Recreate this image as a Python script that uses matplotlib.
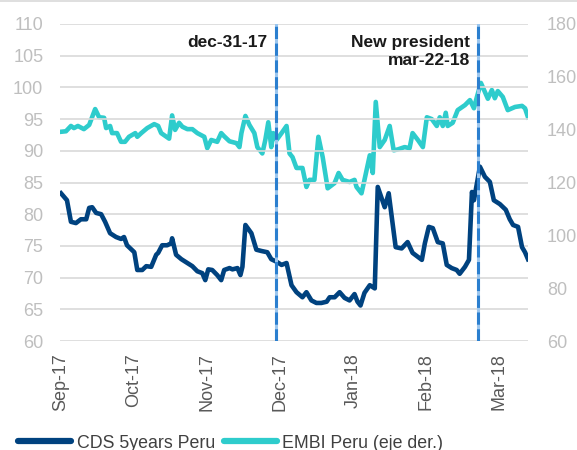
import matplotlib
matplotlib.use("Agg")
import matplotlib.pyplot as plt
from matplotlib.lines import Line2D

plt.rcParams["font.family"] = ["Liberation Sans", "DejaVu Sans"]

# eje x: índice de días hábiles (una etiqueta cada 22 días)
meses = ["Sep-17", "Oct-17", "Nov-17", "Dec-17", "Jan-18", "Feb-18", "Mar-18"]
pos_meses = [0, 22, 44, 66, 88, 110, 132]

# CDS 5 años Perú (eje izq.)
cds_x = [0, 1.8, 3.0, 4.5, 6.0, 7.6, 8.5, 9.4, 10.6, 12.1, 13.3, 14.8, 16.6, 18.1,
         19.0, 19.9, 22.1, 23.0, 24.5, 25.7, 27.2, 28.7, 29.3, 30.5, 32.0, 33.2,
         33.5, 34.7, 36.3, 38.1, 39.6, 41.1, 42.6, 43.5, 44.4, 45.6, 47.1, 48.3,
         49.2, 50.8, 51.7, 53.2, 54.1, 54.7, 55.6, 57.4, 58.9, 60.4, 62.2, 63.4,
         65.0, 66.5, 68.0, 69.5, 71.0, 72.8, 74.0, 75.5, 77.0, 78.5, 80.1, 81.0,
         82.5, 84.0, 85.5, 87.0, 88.5, 89.4, 90.3, 91.5, 93.1, 94.6, 95.5, 97.6,
         98.8, 100.9, 102.7, 104.5, 106.0, 108.8, 109.7, 110.9, 112.1, 113.6,
         115.1, 116.3, 117.8, 119.3, 120.2, 121.8, 123.0, 123.9, 124.5, 126.3,
         127.8, 129.3, 130.5, 132.3, 134.1, 135.3, 136.3, 137.8, 139.0, 139.9, 140.8]
cds_y = [83.3, 82.2, 78.8, 78.6, 79.2, 79.2, 81.0, 81.1, 80.2, 80.0, 78.8, 77.0, 76.4, 76.1,
         76.4, 75.1, 74.0, 71.2, 71.2, 71.8, 71.7, 73.6, 73.9, 75.1, 75.1, 75.4,
         76.2, 73.6, 72.9, 72.3, 71.8, 71.0, 70.7, 69.6, 71.3, 71.2, 70.4, 69.6,
         71.2, 71.5, 71.3, 71.5, 70.4, 71.7, 78.3, 77.0, 74.4, 74.2, 74.0, 72.9,
         72.5, 72.0, 72.3, 68.8, 67.7, 66.9, 67.7, 66.4, 66.0, 66.0, 66.2, 66.9,
         66.9, 67.7, 66.8, 66.4, 67.4, 66.2, 65.6, 67.6, 68.8, 68.3, 84.3, 81.1,
         83.3, 74.8, 74.6, 75.6, 73.9, 72.8, 75.4, 78.0, 77.8, 75.6,
         75.4, 72.0, 71.5, 71.2, 70.6, 71.7, 72.8, 83.5, 82.2, 87.5,
         85.9, 85.1, 82.2, 81.6, 80.7, 79.2, 78.3, 78.0, 74.8, 74.0, 72.9]

# EMBI Perú (eje der.)
embi_x = [0, 1.5, 3.0, 3.9, 5.1, 6.9, 8.5, 10.3, 11.5, 13.0, 13.6, 14.8, 15.4, 16.9,
          18.1, 19.3, 20.5, 22.4, 23.0, 24.2, 26.0, 28.1, 29.3, 30.2, 32.6, 33.5,
          34.4, 35.6, 36.6, 38.1, 39.6, 41.1, 43.2, 44.1, 45.3, 47.1, 48.3, 49.2,
          50.8, 52.9, 53.8, 54.4, 55.6, 56.8, 58.3, 59.2, 60.7, 61.6, 62.5, 63.4,
          64.0, 65.0, 66.5, 68.0, 68.9, 69.8, 71.0, 72.8, 74.0, 74.9, 76.4, 77.6,
          78.9, 80.4, 82.5, 83.7, 84.9, 87.0, 88.5, 89.1, 90.6, 91.5, 93.1, 94.0,
          94.9, 96.1, 97.6, 99.1, 100.3, 101.5, 103.6, 105.1, 106.0, 107.6, 109.1,
          110.3, 111.8, 113.3, 114.2, 115.1, 116.0, 116.6, 118.1, 119.6, 121.8,
          123.3, 124.5, 125.4, 126.6, 127.8, 128.7, 129.9, 130.8, 131.7, 133.2,
          134.7, 136.9, 139.0, 139.9, 140.8]
embi_y = [139.2, 139.4, 141.4, 140.6, 141.4, 140.2, 141.8, 147.8, 144.7, 144.5, 140.6, 141.4, 138.7, 138.7,
          135.4, 135.4, 137.3, 138.7, 137.3, 138.7, 140.6, 142.1, 141.4, 138.7, 136.6, 145.4,
          139.9, 142.6, 141.1, 140.2, 140.2, 138.7, 137.3, 133.0, 136.1, 135.4, 138.7, 137.5,
          135.6, 134.9, 133.4, 138.7, 145.2, 141.8, 138.7, 133.4, 131.0, 136.1, 142.8, 133.4,
          138.7, 136.1, 138.7, 141.4, 131.0, 129.6, 125.5, 125.5, 118.3, 121.0, 121.0, 137.3,
          129.6, 117.8, 119.8, 123.6, 121.0, 120.2, 121.0, 118.3, 115.9, 121.0, 130.3, 123.6,
          150.5, 133.4, 136.1, 141.4, 132.2, 132.5, 133.4, 133.0, 138.7, 136.1, 133.4,
          144.7, 144.0, 141.4, 144.7, 141.4, 146.4, 141.4, 142.6, 147.4, 149.3,
          151.2, 148.1, 152.4, 157.7, 154.3, 151.7, 155.0, 151.9, 154.6, 152.4,
          147.4, 148.6, 149.0, 148.1, 144.7]

# eventos
eventos_x = [64.7, 125.7]
eventos_txt = ["dec-31-17", "New president\nmar-22-18"]

AZUL = "#00427F"
TURQUESA = "#2ECCCC"
GRIS_Y = "#BFBFBF"
GRIS_X = "#595959"

fig = plt.figure(figsize=(5.77, 4.5), dpi=100)
ax = fig.add_axes([60 / 577, 1 - 341 / 450, 468 / 577, 317 / 450])
ax2 = ax.twinx()

ax.set_ylim(60, 110)
ax.set_yticks(range(60, 111, 5))
ax2.set_ylim(60, 180)
ax2.set_yticks(range(60, 181, 20))
ax.set_xlim(-0.3, 140.8)
ax.set_xticks(pos_meses)
ax.set_xticklabels(meses, rotation=90)

ax.grid(axis="y", color="#D9D9D9", linewidth=1.2)
ax.set_axisbelow(True)
for a in (ax, ax2):
    for s in a.spines.values():
        s.set_visible(False)
ax.tick_params(axis="y", length=0, pad=12, labelsize=13, labelcolor=GRIS_Y)
ax2.tick_params(axis="y", length=0, pad=13.5, labelsize=13, labelcolor=GRIS_Y)
ax.tick_params(axis="x", length=0, pad=8.5, labelsize=13, labelcolor=GRIS_X)

ax.set_zorder(ax2.get_zorder() + 1)
ax.patch.set_visible(False)

ax2.plot(embi_x, embi_y, color=TURQUESA, linewidth=3.3, solid_joinstyle="round")
ax.plot(cds_x, cds_y, color=AZUL, linewidth=3.3, solid_joinstyle="round")

for xv, txt in zip(eventos_x, eventos_txt):
    ax.axvline(xv, color="#9CC6EE", linewidth=2.2, zorder=5)
    ax.axvline(xv, color="#2B7FCF", linewidth=2.2, linestyle=(0, (4, 1.5)), zorder=6)
    ax.text(xv - 2.4, 108.3, txt, ha="right", va="top",
            fontsize=12.5, fontweight="bold", color="#1A1A1A", linespacing=1.28)

handles = [Line2D([], [], color=AZUL, linewidth=4.5, solid_capstyle="round"),
           Line2D([], [], color=TURQUESA, linewidth=4.5, solid_capstyle="round")]
fig.legend(handles, ["CDS 5years Peru", "EMBI Peru (eje der.)"], loc="center left",
           bbox_to_anchor=(18 / 577, 7 / 450), frameon=False, ncol=2, fontsize=12.8,
           handlelength=3.0, handletextpad=0.3, columnspacing=0.5, borderpad=0,
           borderaxespad=0, labelcolor="#404040")

fig.add_artist(Line2D([0, 1], [0.997, 0.997], color="#D9D9D9", linewidth=1.2,
                      transform=fig.transFigure))

fig.savefig("out.png", dpi=100)
